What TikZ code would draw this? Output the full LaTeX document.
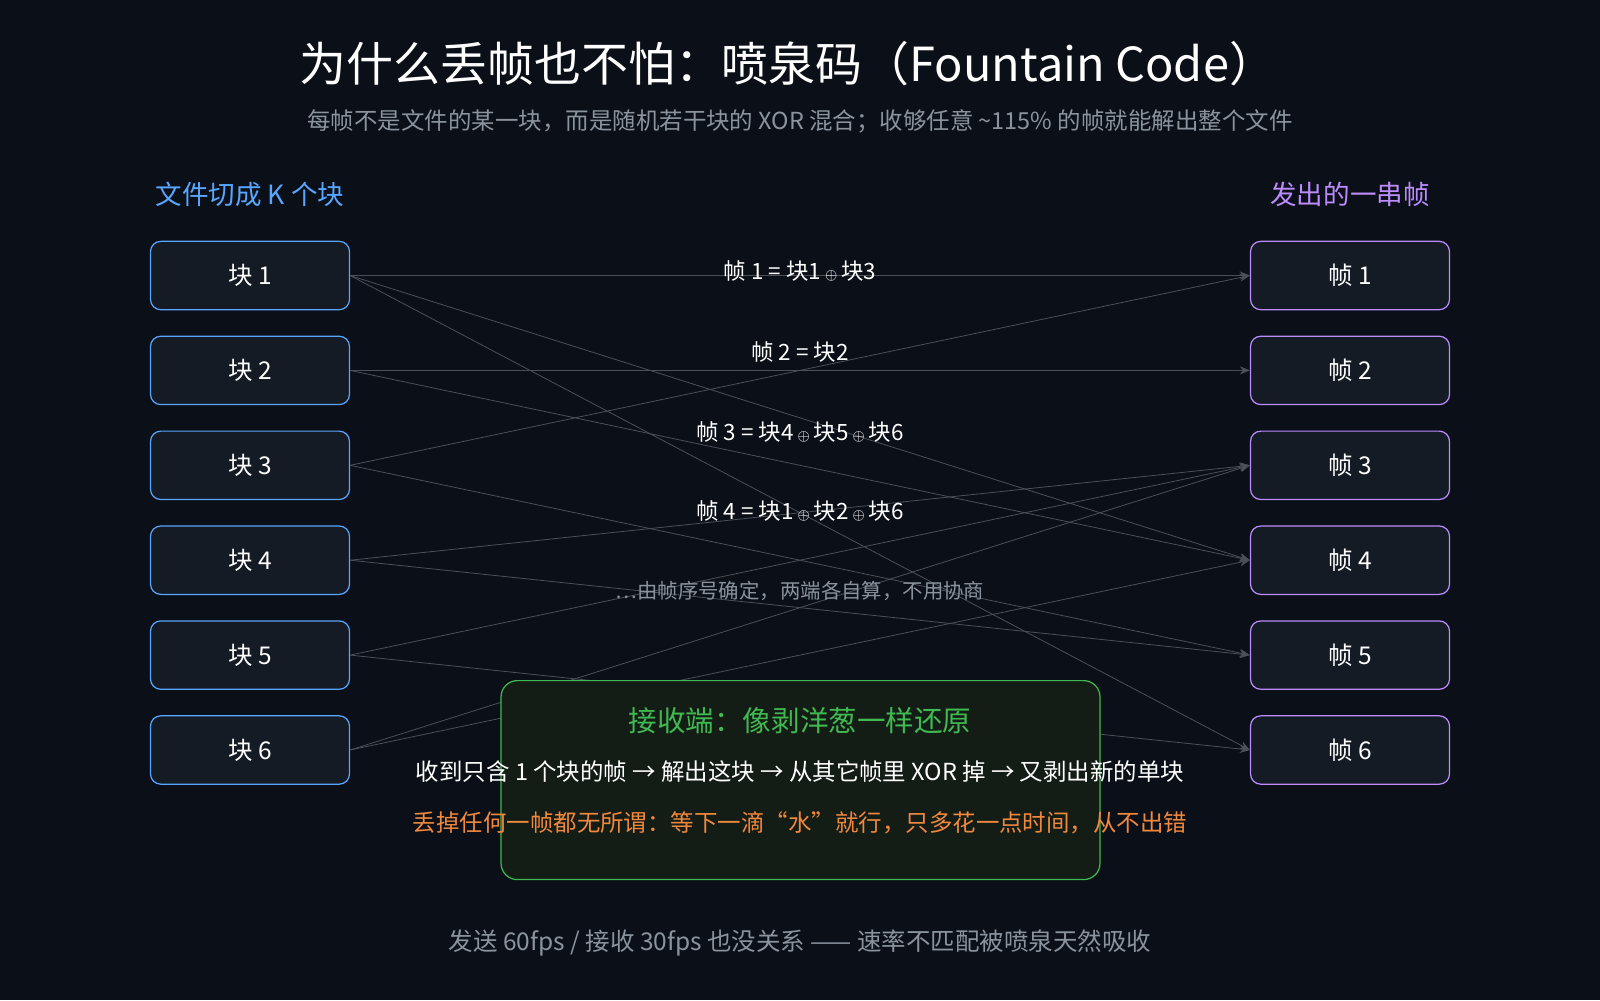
\documentclass[tikz,border=0pt]{standalone}
\usepackage{fontspec}
\setmainfont{Noto Sans CJK SC}
\usepackage{xcolor}
\usetikzlibrary{arrows.meta,positioning}

\definecolor{bgdark}{HTML}{0B0F17}
\definecolor{boxfill}{HTML}{151B25}
\definecolor{blockblue}{HTML}{58A6FF}
\definecolor{framepurple}{HTML}{BC8CFF}
\definecolor{okgreen}{HTML}{3FB950}
\definecolor{greenfill}{HTML}{141C16}
\definecolor{warnorange}{HTML}{F0883E}
\definecolor{linkgray}{HTML}{4A4F58}
\definecolor{mutedgray}{HTML}{8B949E}

\newcommand{\xo}{\,{\scriptsize$\oplus$}\,}

\begin{document}
\begin{tikzpicture}[
    x=0.5pt, y=-0.5pt,
    block/.style={rectangle, draw=blockblue, fill=boxfill, rounded corners=5pt, line width=0.6pt,
        minimum width=97.5pt, minimum height=33.5pt, text=white, font=\fontsize{12}{14}\selectfont},
    frame/.style={block, draw=framepurple},
    link/.style={draw=linkgray, line width=0.4pt, -{Stealth[length=5pt,width=4pt]}},
    eqlabel/.style={text=white, font=\fontsize{11}{13}\selectfont}
]
\useasboundingbox[fill=bgdark] (0,0) rectangle (1568,980);

% title
\node (title) [text=white, font=\fontsize{23}{26}\selectfont] at (772,62) {为什么丢帧也不怕：喷泉码（Fountain Code）};
\node (subtitle) [text=mutedgray, font=\fontsize{11.5}{14}\selectfont] at (784,119) {每帧不是文件的某一块，而是随机若干块的 XOR 混合；收够任意 \textasciitilde115\% 的帧就能解出整个文件};

% column headers
\node (lefthead) [text=blockblue, font=\fontsize{13}{15}\selectfont] at (245,191) {文件切成 K 个块};
\node (righthead) [text=framepurple, font=\fontsize{13}{15}\selectfont] at (1323,191) {发出的一串帧};

% blocks and frames
\foreach \i/\y in {1/270,2/363,3/456,4/549,5/642,6/735} {
    \node (b\i) [block] at (245,\y) {块 \i};
    \node (f\i) [frame] at (1323,\y) {帧 \i};
}

% xor links
\foreach \b/\f in {1/1,3/1,2/2,4/3,5/3,6/3,1/4,2/4,6/4,3/5,4/5,1/6,5/6}
    \draw[link] (b\b.east) -- (f\f.west);

% receiver box
\node (recv) [draw=okgreen, fill=greenfill, rounded corners=8pt, line width=0.6pt,
    minimum width=293.5pt, minimum height=97.5pt] at (784.5,764.5) {};
\node (recvtitle) [text=okgreen, font=\fontsize{14}{16}\selectfont] at (784,706) {接收端：像剥洋葱一样还原};
\node (recvsteps) [text=white, font=\fontsize{11.5}{14}\selectfont] at (784,756) {收到只含 1 个块的帧 → 解出这块 → 从其它帧里 XOR 掉 → 又剥出新的单块};
\node (recvnote) [text=warnorange, font=\fontsize{11.5}{14}\selectfont] at (784,806) {丢掉任何一帧都无所谓：等下一滴“水”就行，只多花一点时间，从不出错};

% equations
\node (eq1) [eqlabel] at (784,266) {帧 1 = 块1\xo 块3};
\node (eq2) [eqlabel] at (784,345) {帧 2 = 块2};
\node (eq3) [eqlabel] at (784,423) {帧 3 = 块4\xo 块5\xo 块6};
\node (eq4) [eqlabel] at (784,501) {帧 4 = 块1\xo 块2\xo 块6};
\node (eqmore) [text=mutedgray, font=\fontsize{10}{12}\selectfont] at (784,579) {…由帧序号确定，两端各自算，不用协商};

% footer
\node (footer) [text=mutedgray, font=\fontsize{12}{14}\selectfont] at (784,924) {发送 60fps / 接收 30fps 也没关系 —— 速率不匹配被喷泉天然吸收};
\end{tikzpicture}
\end{document}
